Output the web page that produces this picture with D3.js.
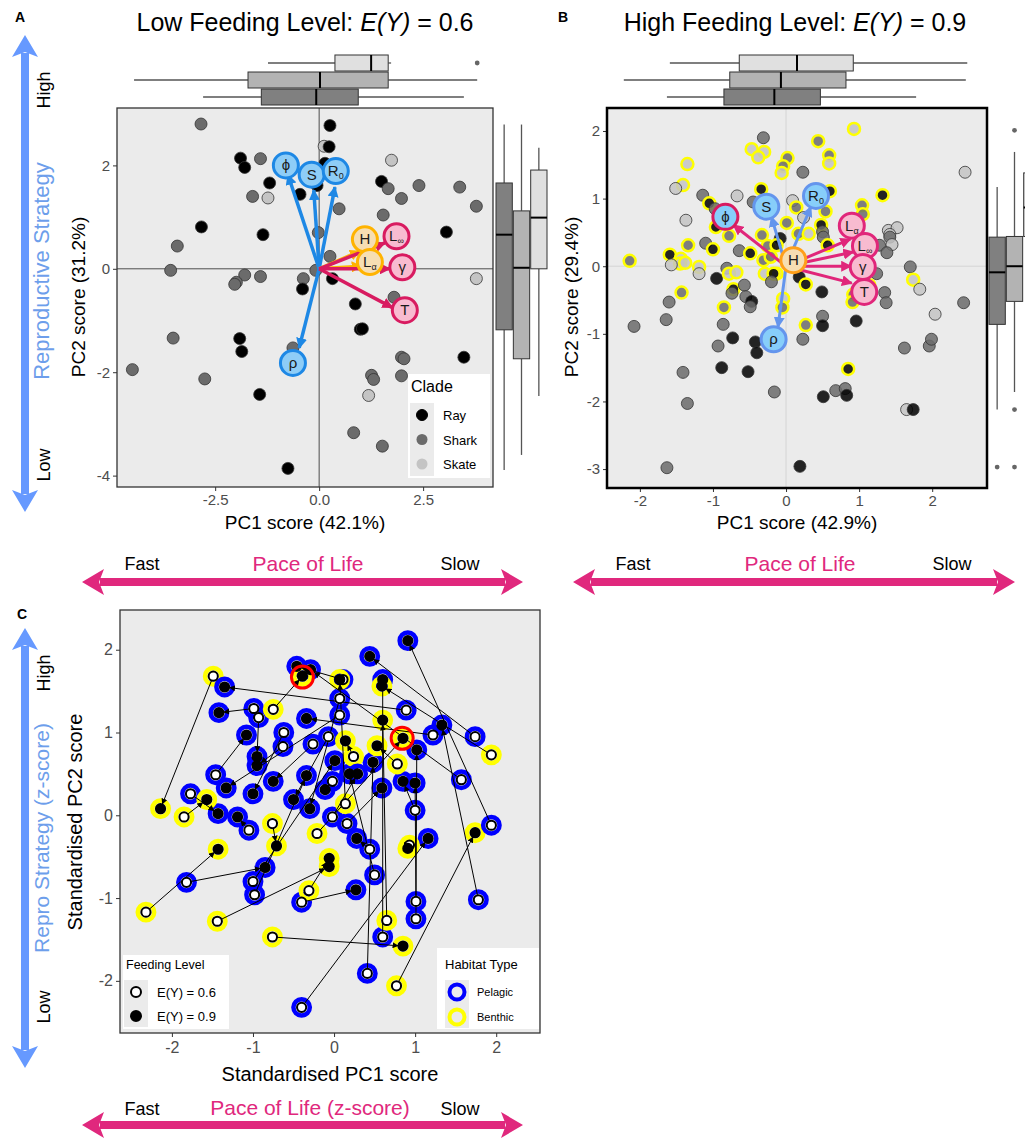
<!DOCTYPE html>
<html><head><meta charset="utf-8">
<script src="https://cdn.jsdelivr.net/npm/d3@7"></script>
<style>body{margin:0;background:#fff}svg{display:block}</style>
</head><body>
<script>
// ---------------- DATA ----------------
const clades = ["Ray","Shark","Skate"];
// Panel A points: [PC1, PC2, clade index]
const pointsA = [[-2.84,2.80,1],[0.26,2.77,0],[0.12,2.37,2],[0.24,2.36,0],[-1.89,2.14,0],[-1.79,1.96,0],[-1.41,2.13,1],[1.74,2.10,2],[0.14,2.04,0],[-1.19,1.66,0],[-0.46,1.44,0],[-1.60,1.40,1],[-1.23,1.37,2],[-0.05,1.61,0],[1.50,1.69,0],[1.66,1.55,1],[2.40,1.61,1],[3.38,1.58,1],[1.98,1.36,1],[3.78,1.21,1],[0.48,1.16,1],[1.54,1.04,1],[-2.83,0.81,0],[-1.35,0.66,0],[3.06,0.71,0],[-0.02,0.70,1],[-3.41,0.44,1],[0.26,0.24,1],[-3.57,-0.03,1],[-1.79,-0.12,1],[-1.41,-0.15,1],[-1.99,-0.26,1],[-2.03,-0.30,1],[-0.38,-0.19,1],[-0.40,-0.39,0],[-0.08,-0.03,1],[0.32,-0.19,0],[0.87,-0.68,0],[1.80,-0.55,1],[3.78,-0.19,2],[0.99,-1.17,0],[1.04,-1.16,0],[-3.51,-1.34,1],[-1.91,-1.35,0],[-1.86,-1.60,0],[-0.63,-1.53,1],[-4.49,-1.95,1],[-2.75,-2.13,1],[-1.43,-2.43,0],[1.98,-1.71,1],[2.04,-1.74,1],[3.48,-1.71,0],[1.26,-2.06,1],[1.31,-2.14,1],[1.98,-2.07,1],[1.19,-2.45,2],[0.83,-3.17,1],[1.52,-3.43,1],[-0.75,-3.86,0]];
// Panel B points: [PC1, PC2, clade index, benthic flag]
const pointsB = [[-0.31,1.90,1,0],[0.93,2.03,2,1],[0.44,1.85,1,1],[-0.47,1.73,2,1],[-0.30,1.69,2,1],[-0.38,1.61,2,1],[0.59,1.64,1,1],[0.59,1.52,2,1],[0.02,1.60,1,1],[-0.04,1.48,1,1],[-0.06,1.38,2,1],[0.23,1.39,1,0],[-1.35,1.51,2,1],[-1.41,1.20,2,1],[-1.51,1.15,2,0],[2.45,1.39,2,0],[-0.34,1.14,0,1],[0.60,1.11,0,1],[1.32,1.05,0,1],[-1.14,1.05,1,0],[-0.67,1.04,2,0],[-1.05,0.93,0,1],[-0.97,0.85,1,0],[-0.45,0.95,1,0],[0.09,0.97,2,0],[0.14,0.87,1,1],[1.04,0.90,1,1],[1.05,0.77,1,1],[0.54,0.81,1,1],[-1.37,0.68,2,0],[0.24,0.72,2,0],[0.01,0.64,1,1],[0.48,0.61,0,1],[-0.96,0.58,0,1],[-0.78,0.45,1,1],[-0.33,0.46,1,1],[0.17,0.48,1,1],[0.31,0.48,2,1],[0.50,0.51,1,0],[0.51,0.43,1,0],[-0.08,0.41,0,0],[1.40,0.53,2,0],[1.52,0.57,2,0],[1.42,0.47,2,0],[1.42,0.43,1,0],[1.45,0.32,2,0],[-1.34,0.31,1,1],[-1.10,0.34,1,0],[-1.00,0.25,0,1],[-0.64,0.23,1,0],[-0.49,0.19,0,1],[-0.25,0.30,1,1],[-0.13,0.31,0,1],[0.57,0.31,0,1],[1.28,0.31,1,0],[1.38,0.20,1,0],[-2.14,0.08,1,1],[-1.59,0.17,0,1],[-1.44,0.11,2,1],[-1.45,0.04,2,1],[-1.38,0.05,2,1],[-1.57,0.02,2,0],[-1.19,-0.01,2,1],[-1.19,-0.11,2,0],[-0.31,0.09,1,1],[-0.21,0.14,1,1],[-0.81,-0.03,1,0],[-0.95,-0.18,0,0],[-0.78,-0.11,2,1],[-0.68,-0.09,2,1],[-0.29,-0.11,2,1],[-0.13,-0.11,2,1],[-0.17,-0.11,0,1],[-0.20,-0.23,1,0],[0.18,-0.16,0,0],[0.27,-0.27,0,1],[1.24,-0.11,1,0],[1.70,-0.01,1,0],[1.74,-0.20,2,1],[1.83,-0.34,2,0],[1.14,-0.28,1,1],[-1.43,-0.39,1,1],[-0.72,-0.34,0,1],[-0.57,-0.28,1,0],[-0.74,-0.40,1,0],[-0.55,-0.45,1,0],[-0.47,-0.52,0,0],[-0.49,-0.60,1,0],[-0.04,-0.48,2,1],[-0.05,-0.61,1,1],[0.49,-0.38,0,0],[0.92,-0.42,1,1],[0.91,-0.53,1,1],[1.35,-0.39,1,0],[1.37,-0.54,1,0],[-1.60,-0.53,1,0],[-0.85,-0.61,1,1],[2.43,-0.54,1,0],[2.04,-0.71,2,0],[-2.08,-0.89,1,0],[-1.64,-0.79,1,0],[-0.86,-0.86,1,0],[0.50,-0.74,1,0],[0.50,-0.88,0,0],[0.27,-0.87,1,1],[0.96,-0.81,0,0],[-0.73,-1.06,0,0],[-0.42,-1.12,0,0],[-0.40,-1.28,0,0],[-0.93,-1.18,1,0],[0.23,-1.08,1,0],[1.62,-1.21,1,0],[1.96,-1.18,1,0],[1.99,-1.08,1,0],[-0.88,-1.50,0,0],[-0.52,-1.56,0,0],[-1.41,-1.57,1,0],[0.85,-1.52,0,1],[-0.16,-1.86,1,0],[0.51,-1.93,0,0],[0.68,-1.84,1,0],[0.81,-1.81,1,0],[0.83,-1.91,0,0],[-1.35,-2.03,1,0],[1.65,-2.12,2,0],[1.74,-2.12,0,0],[-1.63,-2.98,1,0],[0.19,-2.96,0,0]];
// Loading vectors: [symbol, subscript, colour group, tipX, tipY, labelX, labelY]
const loadingsA = [["ϕ","","blue",-0.75,1.82,-0.80,2.00],["S","","blue",-0.13,1.52,-0.18,1.82],["R","0","blue",0.38,1.58,0.40,1.89],["ρ","","blue",-0.48,-1.53,-0.63,-1.82],["H","","orange",0.98,0.34,1.10,0.57],["L","α","orange",1.02,0.05,1.22,0.13],["L","∞","pink",1.58,0.50,1.86,0.63],["γ","","pink",1.70,0.0,2.0,0.03],["T","","pink",1.76,-0.75,2.06,-0.80]];
const loadingsB = [["S","","blue",-0.20,0.73,-0.27,0.88],["R","0","blue",0.34,0.88,0.41,1.04],["ρ","","blue",-0.11,-0.90,-0.17,-1.08],["ϕ","","pinkblue",-0.72,0.61,-0.83,0.73],["L","α","pink",0.88,0.40,0.90,0.60],["L","∞","pink",0.92,0.21,1.08,0.30],["γ","","pink",0.89,0.0,1.05,-0.01],["T","","pink",0.90,-0.25,1.07,-0.38],["H","","orange",0.06,0.05,0.10,0.09]];
// Marginal box plot summaries [lo, q1, median, q3, hi] per clade, plus outliers
const boxTopA = {Ray:[-2.79,-1.39,-0.07,0.94,3.48], Shark:[-4.45,-1.71,0.02,1.66,3.8], Skate:[-1.23,0.38,1.25,1.66,1.73]};
const outTopA = {Ray:[], Shark:[], Skate:[3.8]};
const boxRightA = {Ray:[-3.89,-1.18,0.66,1.66,2.79], Shark:[-3.6,-1.74,0.02,1.12,2.79], Skate:[-2.46,0,0.99,1.91,2.34]};
const outRightA = {Ray:[], Shark:[], Skate:[]};
const boxTopB = {Ray:[-1.63,-0.85,-0.16,0.47,1.78], Shark:[-2.22,-0.77,-0.07,0.82,2.46], Skate:[-1.59,-0.64,0.15,0.92,2.48]};
const outTopB = {Ray:[], Shark:[], Skate:[]};
const boxRightB = {Ray:[-2.12,-0.86,-0.09,0.43,1.17], Shark:[-1.86,-0.52,0.0,0.44,1.69], Skate:[-0.9,0.44,0.87,1.38,2.1]};
const outRightB = {Ray:[-2.97], Shark:[2.01,-2.12,-2.97], Skate:[]};
// Panel C pairs: [PC1 at E(Y)=0.6, PC2 at 0.6, PC1 at 0.9, PC2 at 0.9, benthic flag]
const pairsC = [[-1.49,1.68,-2.14,0.08,1],[-2.32,-1.17,-1.43,-0.41,1],[-1.82,-0.81,-0.85,-0.63,0],[-0.76,-1.47,0.85,-1.58,1],[-1.44,-1.28,-0.06,-0.62,1],[-0.40,-2.32,1.16,-0.28,0],[0.77,-2.06,1.74,-0.21,1],[0.60,-1.47,0.60,1.64,0],[1.01,-1.25,1.02,0.79,0],[1.01,-1.04,1.00,0.39,0],[1.78,-1.02,1.33,1.09,0],[1.94,-0.12,0.91,2.11,0],[1.94,0.73,0.59,1.56,1],[1.74,0.95,0.44,1.92,0],[1.57,0.43,-0.29,1.76,0],[0.89,1.27,-1.35,1.55,0],[1.22,0.97,-0.34,1.17,0],[-0.40,-1.05,0.27,-0.90,0],[0.41,-1.91,0.48,0.64,0],[0.65,-1.27,0.60,1.15,1],[-0.98,-0.96,-0.34,0.48,0],[-1.00,-0.80,0.01,0.66,0],[-0.31,-0.91,-0.06,-0.52,1],[0.50,-0.72,0.19,0.50,0],[0.44,-0.41,0.28,-0.28,0],[0.93,-0.36,0.91,-0.40,1],[1.00,0.06,0.85,0.41,0],[-1.77,0.26,-1.43,0.02,0],[-1.85,-0.02,-1.57,0.19,1],[-1.46,0.49,-1.08,0.97,0],[-1.05,-0.18,-1.19,-0.02,0],[-0.76,-0.10,-0.71,-0.37,1],[-0.99,1.29,-1.42,1.24,0],[-0.93,1.18,-0.95,0.71,0],[-0.62,1.00,-1.00,0.26,0],[-0.63,0.83,-0.95,0.60,0],[-0.26,0.86,-0.75,0.41,0],[-0.07,0.95,-0.50,0.19,0],[0.07,1.21,-1.33,0.33,0],[0.07,1.41,-0.30,0.08,0],[0.11,1.64,-0.46,1.80,0],[-0.75,1.28,-0.39,1.68,1],[0.24,0.71,0.14,0.90,1],[-0.02,0.41,-0.11,0.31,0],[0.78,0.62,0.53,0.84,1],[-0.02,-0.02,0.29,0.50,0],[0.16,-0.10,0.59,0.33,0],[0.14,0.14,0.07,1.64,1],[-0.21,-0.22,0.85,0.93,1]];
const highlightC = [[-0.39,1.67],[0.84,0.93]];
const feedingLevels = ["E(Y) = 0.6","E(Y) = 0.9"];
const habitats = ["Pelagic","Benthic"];
const ticksA = {x:[-2.5,0,2.5], y:[-4,-2,0,2]};
const ticksB = {x:[-2,-1,0,1,2], y:[-3,-2,-1,0,1,2]};
const ticksC = {x:[-2,-1,0,1,2], y:[-2,-1,0,1,2]};

// ---------------- STYLE ----------------
const FONT = "'Liberation Sans', Arial, Helvetica, sans-serif";
const cladeFill = d3.scaleOrdinal().domain([0,1,2]).range(["#000000","#6b6b6b","#c4c4c4"]);
const cladeBox = {Ray:"#808080", Shark:"#b3b3b3", Skate:"#e0e0e0"};
const labStyleA = {blue:{line:"#1e88e5",stroke:"#1e88e5",fill:"#8ecdf7"}, orange:{line:"#ffb300",stroke:"#ffb300",fill:"#f6deb3"}, pink:{line:"#d81b60",stroke:"#d81b60",fill:"#f8bbd0"}};
const labStyleB = {blue:{line:"#6495ed",stroke:"#6495ed",fill:"#87cefa"}, orange:{line:"#ff9f1a",stroke:"#ff9f1a",fill:"#f6deb3"}, pink:{line:"#e0267a",stroke:"#e0267a",fill:"#f8bbd0"}, pinkblue:{line:"#e0267a",stroke:"#d81b60",fill:"#87cefa"}};
const BLUE = "#6699ff", PINK = "#e0287d";
const habColor = d3.scaleOrdinal().domain([0,1]).range(["#0000ff","#ffff00"]);

const svg = d3.select("body").append("svg").attr("width",1025).attr("height",1138).style("font-family",FONT);
const defs = svg.append("defs");
function marker(id,color,size){
  defs.append("marker").attr("id",id).attr("viewBox","0 0 10 10").attr("refX",9).attr("refY",5)
    .attr("markerWidth",size).attr("markerHeight",size).attr("markerUnits","userSpaceOnUse").attr("orient","auto")
    .append("path").attr("d","M0,0L10,5L0,10z").attr("fill",color);
}

// scales
const xA = d3.scaleLinear().domain([-4.86,4.18]).range([117,493]);
const yA = d3.scaleLinear().domain([-4.22,3.11]).range([487,108]);
const xB = d3.scaleLinear().domain([-2.45,2.75]).range([607,987]);
const yB = d3.scaleLinear().domain([-3.28,2.34]).range([488,108]);
const xC = d3.scaleLinear().domain([-2.64,2.54]).range([120,540]);
const yC = d3.scaleLinear().domain([-2.63,2.48]).range([1033,610]);

function styleAxis(g,fs){
  g.attr("font-family",FONT).attr("font-size",fs);
  g.select(".domain").remove();
  g.selectAll(".tick line").attr("stroke","#333").attr("stroke-width",1);
  g.selectAll(".tick text").attr("fill","#4d4d4d");
}
function frame(xs,ys,ticks,fmtX,refColor,fs,padX){
  const [x0,x1]=xs.range(), [y1,y0]=ys.range();
  svg.append("rect").attr("x",x0).attr("y",y0).attr("width",x1-x0).attr("height",y1-y0).attr("fill","#ebebeb");
  if(refColor){
    svg.append("line").attr("x1",xs(0)).attr("x2",xs(0)).attr("y1",y0).attr("y2",y1).attr("stroke",refColor).attr("stroke-width",1);
    svg.append("line").attr("x1",x0).attr("x2",x1).attr("y1",ys(0)).attr("y2",ys(0)).attr("stroke",refColor).attr("stroke-width",1);
  }
  svg.append("g").attr("transform",`translate(0,${y1})`).call(d3.axisBottom(xs).tickValues(ticks.x).tickFormat(fmtX).tickSize(4).tickPadding(padX)).call(g=>styleAxis(g,fs));
  svg.append("g").attr("transform",`translate(${x0},0)`).call(d3.axisLeft(ys).tickValues(ticks.y).tickFormat(d=>String(d)).tickSize(4).tickPadding(3)).call(g=>styleAxis(g,fs));
}
function border(xs,ys,w,color){
  const [x0,x1]=xs.range(), [y1,y0]=ys.range();
  svg.append("rect").attr("x",x0).attr("y",y0).attr("width",x1-x0).attr("height",y1-y0).attr("fill","none").attr("stroke",color).attr("stroke-width",w);
}
function boxes(stats,outs,band,scale,horizontal){
  const g = svg.append("g");
  Object.keys(stats).forEach(k=>{
    const s=stats[k], c=band(k)+band.bandwidth()/2, h=band.bandwidth();
    const P=(v,o)=>horizontal?[scale(v),c+o]:[c+o,scale(v)];
    const line=(a,b,col,w)=>{const p=P(a,0),q=P(b,0);g.append("line").attr("x1",p[0]).attr("y1",p[1]).attr("x2",q[0]).attr("y2",q[1]).attr("stroke",col).attr("stroke-width",w);};
    line(s[0],s[1],"#555",1.3); line(s[3],s[4],"#555",1.3);
    const a=P(s[1],-h/2), b=P(s[3],h/2);
    g.append("rect").attr("x",Math.min(a[0],b[0])).attr("y",Math.min(a[1],b[1])).attr("width",Math.abs(b[0]-a[0])).attr("height",Math.abs(b[1]-a[1]))
      .attr("fill",cladeBox[k]).attr("stroke","#333").attr("stroke-width",1);
    const m1=P(s[2],-h/2), m2=P(s[2],h/2);
    g.append("line").attr("x1",m1[0]).attr("y1",m1[1]).attr("x2",m2[0]).attr("y2",m2[1]).attr("stroke","#000").attr("stroke-width",2);
    (outs[k]||[]).forEach(o=>{const p=P(o,0);g.append("circle").attr("cx",p[0]).attr("cy",p[1]).attr("r",2.4).attr("fill","#666");});
  });
}
function loadings(arr,xs,ys,styles,w,prefix){
  const g=svg.append("g");
  Object.keys(styles).forEach(k=>marker(prefix+k,styles[k].line,11));
  arr.forEach(d=>{
    if(Math.hypot(d[3],d[4])<0.2) return;
    g.append("line").attr("x1",xs(0)).attr("y1",ys(0)).attr("x2",xs(d[3])).attr("y2",ys(d[4]))
      .attr("stroke",styles[d[2]].line).attr("stroke-width",w).attr("marker-end",`url(#${prefix}${d[2]})`);
  });
  arr.forEach(d=>{
    const st=styles[d[2]], cx=xs(d[5]), cy=ys(d[6]);
    g.append("circle").attr("cx",cx).attr("cy",cy).attr("r",12.5).attr("fill",st.fill).attr("stroke",st.stroke).attr("stroke-width",3);
    const t=g.append("text").attr("x",cx).attr("y",cy+5).attr("text-anchor","middle").attr("font-size",15).attr("fill","#1a1a1a");
    t.append("tspan").text(d[0]);
    if(d[1]) t.append("tspan").attr("font-size",9).attr("dy",3).text(d[1]);
  });
}
function textRot(x,y,t,fs,color){
  svg.append("text").attr("transform",`translate(${x},${y}) rotate(-90)`).attr("text-anchor","middle").attr("font-size",fs).attr("fill",color).text(t);
}
function txt(x,y,t,fs,color,anchor){
  return svg.append("text").attr("x",x).attr("y",y).attr("text-anchor",anchor||"middle").attr("font-size",fs).attr("fill",color||"#000").text(t);
}
function dblArrowH(x1,x2,y,color){
  const L=20,W=13;
  svg.append("line").attr("x1",x1+L-2).attr("x2",x2-L+2).attr("y1",y).attr("y2",y).attr("stroke",color).attr("stroke-width",8);
  svg.append("path").attr("d",`M${x1},${y}L${x1+L+2},${y-W}L${x1+L-3},${y}L${x1+L+2},${y+W}Z`).attr("fill",color);
  svg.append("path").attr("d",`M${x2},${y}L${x2-L-2},${y-W}L${x2-L+3},${y}L${x2-L-2},${y+W}Z`).attr("fill",color);
}
function dblArrowV(x,y1,y2,color){
  const L=20,W=13;
  svg.append("line").attr("y1",y1+L-2).attr("y2",y2-L+2).attr("x1",x).attr("x2",x).attr("stroke",color).attr("stroke-width",8);
  svg.append("path").attr("d",`M${x},${y1}L${x-W},${y1+L+2}L${x},${y1+L-3}L${x+W},${y1+L+2}Z`).attr("fill",color);
  svg.append("path").attr("d",`M${x},${y2}L${x-W},${y2-L-2}L${x},${y2-L+3}L${x+W},${y2-L-2}Z`).attr("fill",color);
}

// ---------------- PANEL A ----------------
frame(xA,yA,ticksA,d=>d.toFixed(1),"#4d4d4d",15,3);
svg.append("g").selectAll("circle").data(pointsA).join("circle")
  .attr("cx",d=>xA(d[0])).attr("cy",d=>yA(d[1])).attr("r",6)
  .attr("fill",d=>cladeFill(d[2])).attr("stroke","#333").attr("stroke-width",0.8);
loadings(loadingsA,xA,yA,labStyleA,3.5,"mA");
border(xA,yA,1.3,"#333");
// legend A
svg.append("rect").attr("x",408).attr("y",374).attr("width",82).attr("height",104).attr("fill","#fff");
txt(411,392,"Clade",16,"#000","start");
svg.append("rect").attr("x",410).attr("y",403).attr("width",24).attr("height",73).attr("fill","#ebebeb");
clades.forEach((c,i)=>{
  svg.append("circle").attr("cx",422).attr("cy",415+i*24.5).attr("r",5.5).attr("fill",cladeFill(i)).attr("stroke",i===0?"#000":"none");
  txt(443,420+i*24.5,c,13,"#000","start");
});
const topBand = d3.scaleBand().domain(["Skate","Shark","Ray"]).range([55,105]).paddingInner(0.06);
boxes(boxTopA,outTopA,topBand,xA,true);
boxes(boxRightA,outRightA,d3.scaleBand().domain(["Ray","Shark","Skate"]).range([496,547]).paddingInner(0.06),yA,false);
txt(305,529,"PC1 score (42.1%)",19);
textRot(85,297,"PC2 score (31.2%)",19,"#000");

// ---------------- PANEL B ----------------
frame(xB,yB,ticksB,d=>String(d),"#d4d4d4",15,3);
svg.append("g").selectAll("circle").data(pointsB).join("circle")
  .attr("cx",d=>xB(d[0])).attr("cy",d=>yB(d[1])).attr("r",6)
  .attr("fill",d=>cladeFill(d[2])).attr("fill-opacity",0.85)
  .attr("stroke",d=>d[3]?"#ffff00":"#333").attr("stroke-width",d=>d[3]?2.5:0.8);
loadings(loadingsB,xB,yB,labStyleB,3,"mB");
border(xB,yB,2.5,"#000");
boxes(boxTopB,outTopB,topBand,xB,true);
boxes(boxRightB,outRightB,d3.scaleBand().domain(["Ray","Shark","Skate"]).range([989,1040]).paddingInner(0.06),yB,false);
txt(797,529,"PC1 score (42.9%)",19);
textRot(578,297,"PC2 score (29.4%)",19,"#000");

// ---------------- PANEL C ----------------
frame(xC,yC,ticksC,d=>String(d),null,16,5);
const gC = svg.append("g");
pairsC.forEach(p=>{
  [[p[0],p[1]],[p[2],p[3]]].forEach(q=>gC.append("circle").attr("cx",xC(q[0])).attr("cy",yC(q[1])).attr("r",8.2)
    .attr("fill","none").attr("stroke",habColor(p[4])).attr("stroke-width",4.5));
});
marker("mC","#000",6);
pairsC.forEach(p=>{
  const x1=xC(p[0]),y1=yC(p[1]),x2=xC(p[2]),y2=yC(p[3]);
  const dd=Math.hypot(x2-x1,y2-y1)||1, k=Math.max(0,(dd-5)/dd);
  gC.append("line").attr("x1",x1).attr("y1",y1).attr("x2",x1+(x2-x1)*k).attr("y2",y1+(y2-y1)*k)
    .attr("stroke","#000").attr("stroke-width",1).attr("marker-end","url(#mC)");
});
pairsC.forEach(p=>{
  gC.append("circle").attr("cx",xC(p[0])).attr("cy",yC(p[1])).attr("r",4.6).attr("fill","#fff").attr("stroke","#000").attr("stroke-width",2);
  gC.append("circle").attr("cx",xC(p[2])).attr("cy",yC(p[3])).attr("r",4.6).attr("fill","#000").attr("stroke","#000").attr("stroke-width",2);
});
highlightC.forEach(h=>gC.append("circle").attr("cx",xC(h[0])).attr("cy",yC(h[1])).attr("r",11).attr("fill","none").attr("stroke","#ff0000").attr("stroke-width",3));
border(xC,yC,1.3,"#333");
// legends C
svg.append("rect").attr("x",123).attr("y",955).attr("width",106).attr("height",74).attr("fill","#fff");
txt(126,969,"Feeding Level",12.5,"#000","start");
svg.append("rect").attr("x",124).attr("y",980).attr("width",24).attr("height",47).attr("fill","#ebebeb");
feedingLevels.forEach((f,i)=>{
  svg.append("circle").attr("cx",136).attr("cy",992+i*24).attr("r",5).attr("fill",i?"#000":"#fff").attr("stroke","#000").attr("stroke-width",2);
  txt(157,997+i*24,f,13,"#000","start");
});
svg.append("rect").attr("x",437).attr("y",948).attr("width",102).attr("height",81).attr("fill","#fff");
txt(445,969,"Habitat Type",13,"#000","start");
svg.append("rect").attr("x",445).attr("y",980).attr("width",24).attr("height",48).attr("fill","#ebebeb");
habitats.forEach((h,i)=>{
  svg.append("circle").attr("cx",457).attr("cy",992+i*25).attr("r",7.5).attr("fill","none").attr("stroke",habColor(i)).attr("stroke-width",4);
  txt(477,996+i*25,h,11,"#000","start");
});
txt(330,1081,"Standardised PC1 score",20);
textRot(82,822,"Standardised PC2 score",20,"#000");

// ---------------- TITLES / ANNOTATIONS ----------------
function title(x,pre,post){
  const t=svg.append("text").attr("x",x).attr("y",31).attr("text-anchor","middle").attr("font-size",25).attr("fill","#000");
  t.append("tspan").text(pre); t.append("tspan").attr("font-style","italic").text("E(Y)"); t.append("tspan").text(post);
}
title(305,"Low Feeding Level: "," = 0.6");
title(795,"High Feeding Level: "," = 0.9");
txt(20,22,"A",14,"#000").attr("font-weight","bold");
txt(563,22,"B",14,"#000").attr("font-weight","bold");
txt(22,619,"C",14,"#000").attr("font-weight","bold");

dblArrowV(25,35,512,BLUE);
textRot(50,90,"High",18,"#000");
textRot(49,271,"Reproductive Strategy",22,"#6d9eeb");
textRot(50,465,"Low",18,"#000");
dblArrowV(25,628,1068,BLUE);
textRot(50,673,"High",18,"#000");
textRot(49,838,"Repro Strategy (z-score)",21,"#6d9eeb");
textRot(50,1007,"Low",18,"#000");

dblArrowH(82,523,582,PINK);
txt(142,570,"Fast",18); txt(308,571,"Pace of Life",21,PINK); txt(460,570,"Slow",18);
dblArrowH(573,1015,582,PINK);
txt(633,570,"Fast",18); txt(800,571,"Pace of Life",21,PINK); txt(952,570,"Slow",18);
dblArrowH(82,523,1125,PINK);
txt(142,1115,"Fast",18); txt(310,1115,"Pace of Life (z-score)",21,PINK); txt(460,1115,"Slow",18);
</script>
</body></html>
